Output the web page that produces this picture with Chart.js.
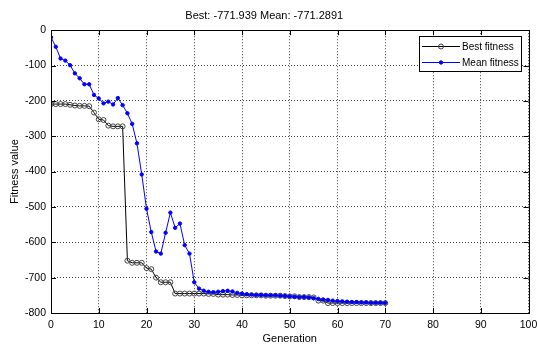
<!DOCTYPE html>
<html>
<head>
<meta charset="utf-8">
<script src="https://cdn.jsdelivr.net/npm/chart.js@4.4.1/dist/chart.umd.min.js"></script>
<style>
  html, body { margin: 0; padding: 0; background: #fff; }
  #wrap { width: 537px; height: 349px; }
</style>
</head>
<body>
<div id="wrap"><canvas id="gaChart" width="537" height="349"></canvas></div>
<script>
// generations (x)
const generations = [0, 1, 2, 3, 4, 5, 6, 7, 8, 9, 10, 11, 12, 13, 14, 15, 16, 17, 18, 19,
    20, 21, 22, 23, 24, 25, 26, 27, 28, 29, 30, 31, 32, 33, 34, 35, 36, 37, 38, 39,
    40, 41, 42, 43, 44, 45, 46, 47, 48, 49, 50, 51, 52, 53, 54, 55, 56, 57, 58, 59,
    60, 61, 62, 63, 64, 65, 66, 67, 68, 69, 70];

const bestFitness = [-209, -209, -209, -209, -211, -213, -214, -214, -215, -233,
    -252, -254, -270, -272, -272, -272, -652, -658, -658, -658,
    -673, -676, -700, -713, -713, -713, -745, -745, -745, -745,
    -745, -745, -745, -746, -746, -748, -748, -748, -749, -749,
    -750, -750, -750, -750, -750, -751, -751, -751, -751, -752,
    -753, -753, -755, -755, -755, -756, -765, -765, -771.9, -771.9,
    -771.939, -771.939, -771.939, -771.939, -771.939, -771.939, -771.939, -771.939, -771.939, -771.939,
    -771.939];

const meanFitness = [-20, -47, -80, -86, -99, -122, -136, -153, -153, -183,
    -193, -207, -202, -210, -192, -212, -235, -265, -320, -408,
    -505, -571, -626, -632, -573, -516, -559, -547, -608, -632,
    -713, -731, -737, -740, -741, -740, -738, -737, -739, -743,
    -745, -747, -748, -749, -749, -750, -750, -750, -751, -752,
    -753, -754, -755, -755, -756, -758, -760, -762, -763, -765,
    -766, -767, -768, -769, -769, -770, -770, -771, -771, -771,
    -771.2891];

const xTicks = [0, 10, 20, 30, 40, 50, 60, 70, 80, 90, 100];
const yTicks = [-800, -700, -600, -500, -400, -300, -200, -100, 0];

const chartTitle = 'Best: -771.939 Mean: -771.2891';
const legendLabels = ['Best fitness', 'Mean fitness'];

const textFont = "'Liberation Sans', Arial, sans-serif";

// box, inward ticks and legend like matlab
const matlabFrame = {
    id: 'matlabFrame',
    afterDatasetsDraw(chart) {
        const ctx = chart.ctx;
        const a = chart.chartArea;
        const xs = chart.scales.x, ys = chart.scales.y;
        const tl = 5;
        ctx.save();
        ctx.strokeStyle = '#000';
        ctx.lineWidth = 1;
        ctx.beginPath();
        for (const v of xTicks) {
            const px = Math.round(xs.getPixelForValue(v)) + 0.5;
            ctx.moveTo(px, a.bottom); ctx.lineTo(px, a.bottom - tl);
            ctx.moveTo(px, a.top); ctx.lineTo(px, a.top + tl);
        }
        for (const v of yTicks) {
            const py = Math.round(ys.getPixelForValue(v)) + 0.5;
            ctx.moveTo(a.left, py); ctx.lineTo(a.left + tl, py);
            ctx.moveTo(a.right, py); ctx.lineTo(a.right - tl, py);
        }
        ctx.stroke();
        ctx.strokeRect(Math.round(a.left) + 0.5, Math.round(a.top) + 0.5,
            Math.round(a.right - a.left), Math.round(a.bottom - a.top));

        // legend
        const lx = 419.5, ly = 36.5, lw = 102, lh = 35;
        ctx.fillStyle = '#fff';
        ctx.fillRect(lx, ly, lw, lh);
        ctx.strokeRect(lx, ly, lw, lh);
        const rows = [46.5, 62.5];
        const ds = chart.data.datasets;
        ctx.font = '10px ' + textFont;
        ctx.textBaseline = 'middle';
        for (let i = 0; i < 2; i++) {
            const d = ds[i];
            ctx.strokeStyle = d.borderColor;
            ctx.beginPath();
            ctx.moveTo(422, rows[i]); ctx.lineTo(460, rows[i]);
            ctx.stroke();
            ctx.beginPath();
            ctx.arc(441, rows[i], d.pointRadius, 0, Math.PI * 2);
            ctx.fillStyle = d.pointBackgroundColor;
            ctx.fill();
            ctx.strokeStyle = d.pointBorderColor;
            ctx.stroke();
            ctx.fillStyle = '#000';
            ctx.fillText(legendLabels[i], 462, rows[i] + 0.5);
        }
        ctx.restore();
    }
};

function CreateChart() {
    let ctx = document.getElementById('gaChart').getContext('2d');

    new Chart(ctx, {
        type: 'line',
        data: {
            datasets: [{
                label: legendLabels[0],
                data: generations.map((g, i) => ({x: g, y: bestFitness[i]})),
                borderColor: '#000',
                borderWidth: 1,
                pointRadius: 2.5,
                pointBorderWidth: 1,
                pointBorderColor: '#444',
                pointBackgroundColor: 'rgba(255,255,255,0)',
                tension: 0,
                order: 2
            }, {
                label: legendLabels[1],
                data: generations.map((g, i) => ({x: g, y: meanFitness[i]})),
                borderColor: '#0000ff',
                borderWidth: 1,
                pointRadius: 1.7,
                pointBorderWidth: 1,
                pointBorderColor: '#0000ff',
                pointBackgroundColor: '#0000ff',
                tension: 0,
                order: 1
            }]
        },
        options: {
            responsive: false,
            animation: false,
            events: [],
            layout: { padding: { left: 0, right: 8.5, top: 0, bottom: 0 } },
            plugins: {
                legend: { display: false },
                tooltip: { enabled: false },
                title: {
                    display: true,
                    text: chartTitle,
                    color: '#000',
                    font: { family: textFont, size: 11, weight: 'normal' },
                    padding: { top: 9, bottom: 8 }
                }
            },
            scales: {
                x: {
                    type: 'linear',
                    min: 0,
                    max: 100,
                    afterFit: (s) => { s.height = 36; s.paddingLeft = 0; s.paddingRight = 0; },
                    afterBuildTicks: (s) => { s.ticks = xTicks.map(v => ({value: v})); },
                    ticks: {
                        color: '#000',
                        padding: 6,
                        maxRotation: 0,
                        autoSkip: false,
                        font: { family: textFont, size: 10.5 }
                    },
                    grid: { color: '#444', drawTicks: false },
                    border: { display: false, dash: [1, 2] },
                    title: {
                        display: true,
                        text: 'Generation',
                        color: '#000',
                        font: { family: textFont, size: 11 },
                        padding: { top: 0, bottom: 3.5 }
                    }
                },
                y: {
                    min: -800,
                    max: 0,
                    afterFit: (s) => { s.width = 51; s.paddingTop = 0; s.paddingBottom = 0; },
                    afterBuildTicks: (s) => { s.ticks = yTicks.map(v => ({value: v})); },
                    ticks: {
                        color: '#000',
                        padding: 5,
                        font: { family: textFont, size: 10.5 }
                    },
                    grid: { color: '#444', drawTicks: false },
                    border: { display: false, dash: [1, 2] },
                    title: {
                        display: true,
                        text: 'Fitness value',
                        color: '#000',
                        font: { family: textFont, size: 11 },
                        padding: { top: 8.4, bottom: 0 }
                    }
                }
            }
        },
        plugins: [matlabFrame]
    });
}

CreateChart();
</script>
</body>
</html>
